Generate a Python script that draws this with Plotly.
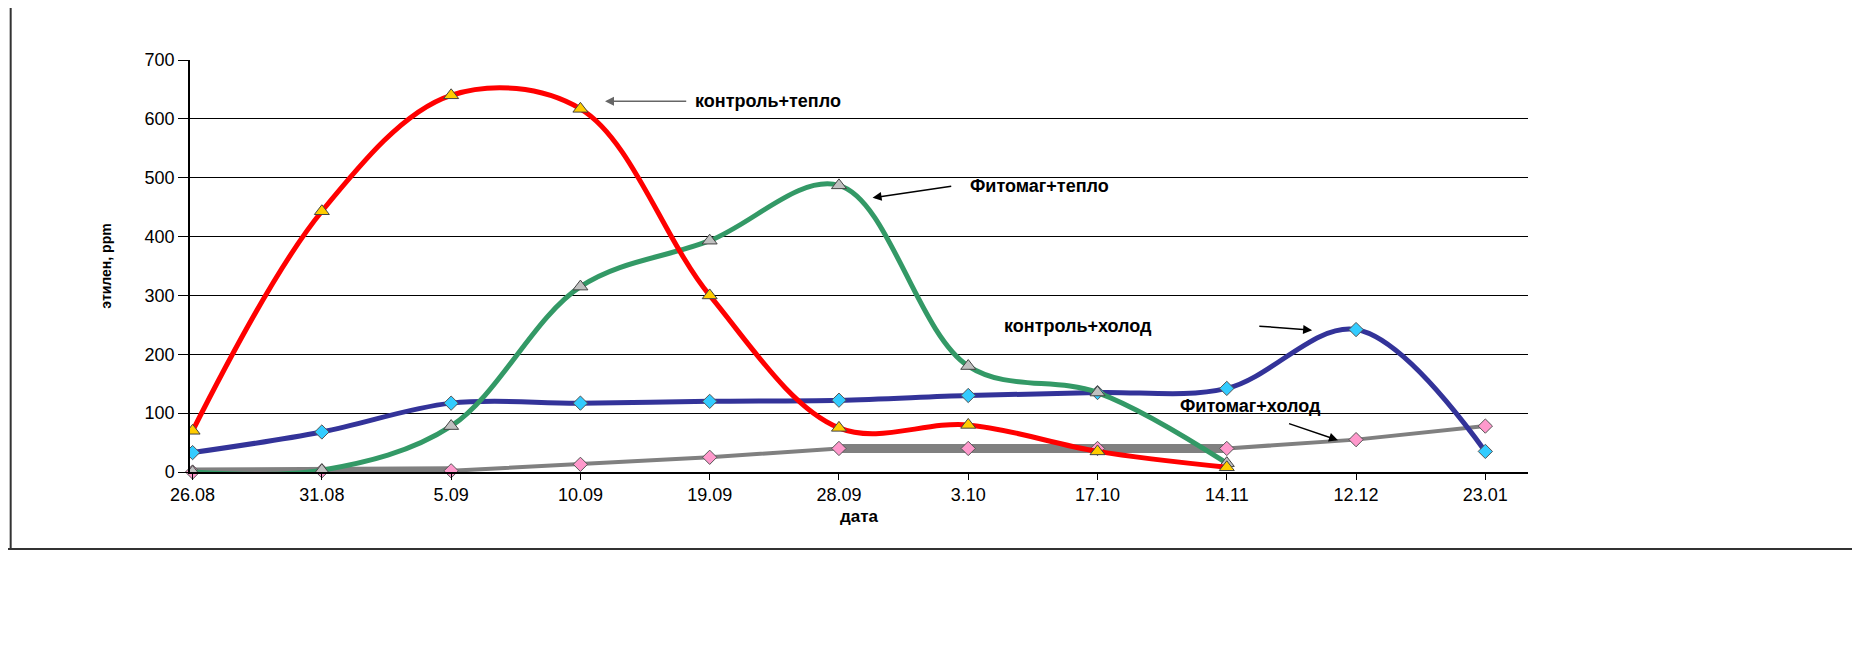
import plotly.graph_objects as go

dates = ["26.08","31.08","5.09","10.09","19.09","28.09","3.10","17.10","14.11","12.12","23.01"]
ctrl_warm = [70, 443, 640, 617, 300, 75, 80, 35, 8, None, None]
fito_warm = [0, 3, 78, 315, 393, 487, 180, 135, 15, None, None]
ctrl_cold = [33, 68, 117, 117, 120, 122, 130, 135, 142, 242, 35]
fito_cold = [0, 2, 2, 13, 25, 40, 40, 40, 40, 55, 78]
fito_cold_thick = [0, 2, 2, None, None, 40, 40, 40, 40, None, None]

W, H = 1860, 647
L, R, T, B = 182, 1520, 52, 464

fig = go.Figure()
fig.add_trace(go.Scatter(x=dates, y=fito_cold, mode="lines", line=dict(color="#808080", width=4), hoverinfo="skip", cliponaxis=False))
fig.add_trace(go.Scatter(x=dates, y=fito_cold_thick, mode="lines", line=dict(color="#808080", width=9), hoverinfo="skip", cliponaxis=False))
fig.add_trace(go.Scatter(x=dates, y=fito_cold, mode="markers", cliponaxis=False,
    marker=dict(symbol="diamond", size=11, color="#ff99cc", line=dict(color="#555", width=1))))
fig.add_trace(go.Scatter(x=dates, y=ctrl_cold, mode="lines+markers", line=dict(color="#333399", width=5, shape="spline"),
    marker=dict(symbol="diamond", size=11, color="#33ccff", line=dict(color="#555", width=1))))
fig.add_trace(go.Scatter(x=dates, y=fito_warm, mode="lines+markers", line=dict(color="#339966", width=5, shape="spline"),
    marker=dict(symbol="triangle-up", size=13, color="#c0c0c0", line=dict(color="#444", width=1))))
fig.add_trace(go.Scatter(x=dates, y=ctrl_warm, mode="lines+markers", line=dict(color="#ff0000", width=5, shape="spline"),
    marker=dict(symbol="triangle-up", size=13, color="#ffcc00", line=dict(color="#444", width=1))))

fnt = dict(family="Liberation Sans, Arial", size=18, color="black")

def label(x, y, t):
    fig.add_annotation(x=x, y=y, text="<b>" + t + "</b>", showarrow=False, xanchor="left", font=fnt)

def arrow(x0, y0, x1, y1, c="black"):
    fig.add_annotation(x=x1, y=y1, ax=x0, ay=y0, axref="x", ayref="y", text="", showarrow=True,
                       arrowhead=2, arrowsize=1.2, arrowwidth=1.5, arrowcolor=c)

label(3.87, 630, "контроль+тепло"); arrow(3.83, 630, 3.19, 630, "#666")
label(6.0, 486, "Фитомаг+тепло"); arrow(5.88, 486, 5.26, 466)
label(6.26, 248, "контроль+холод"); arrow(8.24, 248, 8.66, 241)
label(7.62, 112, "Фитомаг+холод"); arrow(8.47, 83, 8.86, 54)

fig.update_layout(
    width=W, height=H, showlegend=False, plot_bgcolor="white", paper_bgcolor="white",
    margin=dict(l=L, r=W - R, t=T, b=H - B, autoexpand=False),
    font=fnt,
    xaxis=dict(type="category", range=[-0.02, 10.33], showline=True, linecolor="black", linewidth=1.5,
               ticks="outside", ticklen=6, tickcolor="black", showgrid=False,
               title=dict(text="<b>дата</b>", font=dict(size=17), standoff=6), tickfont=dict(size=18)),
    yaxis=dict(range=[0, 700], dtick=100, showline=True, linecolor="black", linewidth=1.5, ticks="outside",
               ticklen=10, tickcolor="black", gridcolor="black", gridwidth=1, zeroline=False,
               title=dict(text="<b>этилен, ppm</b>", font=dict(size=14), standoff=30), tickfont=dict(size=18)),
    shapes=[
        dict(type="line", xref="paper", yref="paper", x0=-L/(R-L)+0.002, x1=-L/(R-L)+0.002, y0=-(541-B)/(B-T), y1=1 + T/(B-T), line=dict(color="#333", width=2)),
        dict(type="line", xref="paper", yref="paper", x0=-L/(R-L), x1=(1858-L)/(R-L), y0=-(541-B)/(B-T), y1=-(541-B)/(B-T), line=dict(color="#333", width=2)),
    ],
)
fig.write_html("out.html")
